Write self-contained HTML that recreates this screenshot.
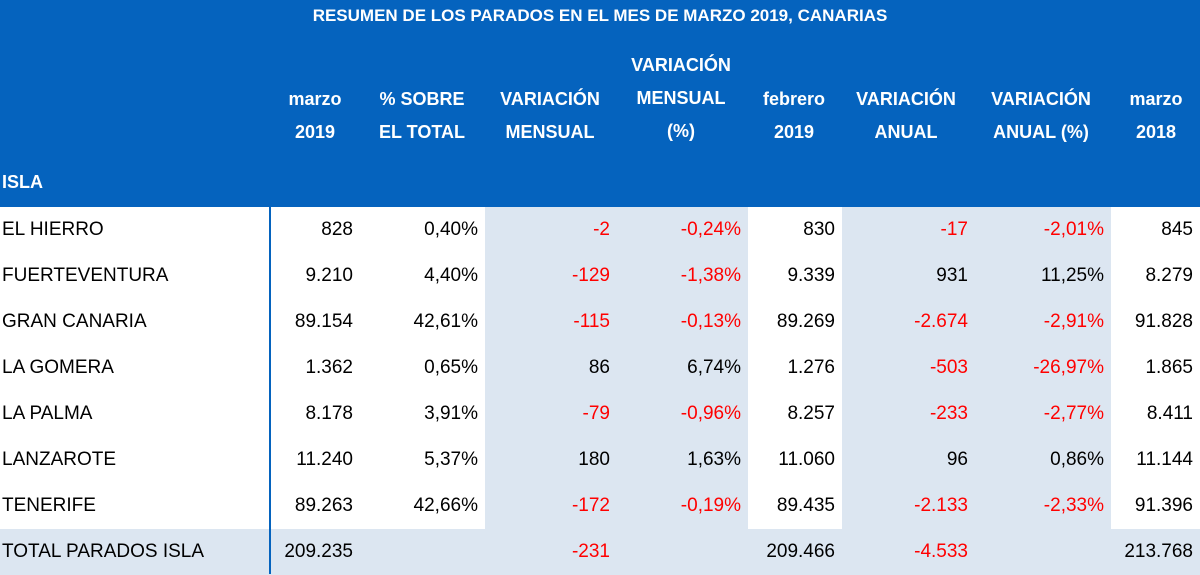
<!DOCTYPE html>
<html><head><meta charset="utf-8"><style>
body{margin:0;width:1200px;height:574px;overflow:hidden;background:#fff;font-family:"Liberation Sans",Arial,sans-serif;}
#hdr{position:absolute;left:0;top:0;width:1200px;height:207px;background:#0563BE;color:#fff;font-weight:bold;}
.h{position:absolute;text-align:center;font-size:18px;line-height:33px;}
#title{position:absolute;left:0;width:1200px;top:6px;text-align:center;font-size:17px;}
.row{position:absolute;left:0;width:1200px;height:46px;font-size:19px;line-height:46px;}
.c{position:absolute;top:0;height:46px;text-align:right;padding-right:7px;box-sizing:border-box;}
.shade{background:#DCE6F1;}
.red{color:#FF0000;}
#vline{position:absolute;left:269px;top:207px;width:2px;height:367px;background:#0563BE;}
</style></head><body>
<div id="hdr">
<div id="title">RESUMEN DE LOS PARADOS EN EL MES DE MARZO 2019, CANARIAS</div>
<div class="h" style="left:270px;width:90px;top:83px">marzo<br>2019</div>
<div class="h" style="left:362px;width:120px;top:83px">% SOBRE<br>EL TOTAL</div>
<div class="h" style="left:486px;width:128px;top:83px">VARIACIÓN<br>MENSUAL</div>
<div class="h" style="left:616px;width:130px;top:49px">VARIACIÓN<br>MENSUAL<br>(%)</div>
<div class="h" style="left:748px;width:92px;top:83px">febrero<br>2019</div>
<div class="h" style="left:842px;width:128px;top:83px">VARIACIÓN<br>ANUAL</div>
<div class="h" style="left:972px;width:138px;top:83px">VARIACIÓN<br>ANUAL (%)</div>
<div class="h" style="left:1112px;width:88px;top:83px">marzo<br>2018</div>
<div class="h" style="left:2px;top:166px;text-align:left">ISLA</div>
</div>
<div id="rows"></div>
<div id="vline"></div>
<script>
const islands=["EL HIERRO","FUERTEVENTURA","GRAN CANARIA","LA GOMERA","LA PALMA","LANZAROTE","TENERIFE","TOTAL PARADOS ISLA"];
const marzo2019=["828","9.210","89.154","1.362","8.178","11.240","89.263","209.235"];
const pctTotal=["0,40%","4,40%","42,61%","0,65%","3,91%","5,37%","42,66%",""];
const varMensual=["-2","-129","-115","86","-79","180","-172","-231"];
const varMensualPct=["-0,24%","-1,38%","-0,13%","6,74%","-0,96%","1,63%","-0,19%",""];
const febrero2019=["830","9.339","89.269","1.276","8.257","11.060","89.435","209.466"];
const varAnual=["-17","931","-2.674","-503","-233","96","-2.133","-4.533"];
const varAnualPct=["-2,01%","11,25%","-2,91%","-26,97%","-2,77%","0,86%","-2,33%",""];
const marzo2018=["845","8.279","91.828","1.865","8.411","11.144","91.396","213.768"];
const cols=[[marzo2019,270,90,false,'marzo-2019'],[pctTotal,360,125,false,'pct-total'],[varMensual,485,132,true,'var-mensual'],[varMensualPct,617,131,true,'var-mensual-pct'],[febrero2019,748,94,false,'febrero-2019'],[varAnual,842,133,true,'var-anual'],[varAnualPct,975,136,true,'var-anual-pct'],[marzo2018,1111,89,false,'marzo-2018']];
const rows=document.getElementById('rows');
islands.forEach((name,i)=>{
  const r=document.createElement('div');
  
  
  r.className='row'+(i===7?' shade':'');
  r.style.top=(207+i*46)+'px';
  const n=document.createElement('div');
  
  
  n.className='c';n.style.left='2px';n.style.textAlign='left';n.textContent=name;
  r.appendChild(n);
  cols.forEach(([arr,x,w,sh,key])=>{
    const c=document.createElement('div');
    
    
    c.className='c'+(sh?' shade':'');
    c.style.left=x+'px';c.style.width=w+'px';
    const v=arr[i];c.textContent=v;
    if(v.startsWith('-'))c.classList.add('red');
    r.appendChild(c);
  });
  rows.appendChild(r);
});
</script>
</body></html>
